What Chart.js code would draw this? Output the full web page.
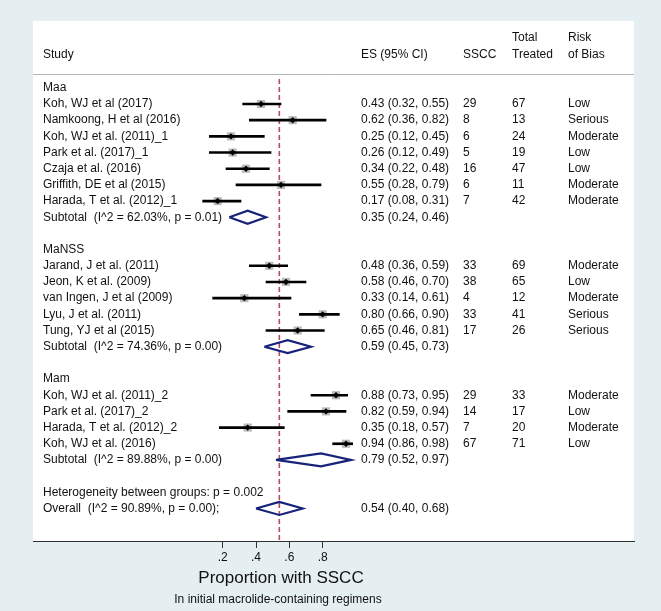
<!DOCTYPE html>
<html>
<head>
<meta charset="utf-8">
<title>Forest plot - proportion with SSCC</title>
<script src="https://cdn.jsdelivr.net/npm/chart.js@4.4.1/dist/chart.umd.min.js"></script>
<style>
  html, body { margin: 0; padding: 0; background: #e5eff1; }
  #wrap { position: relative; width: 661px; height: 611px; }
</style>
</head>
<body>
<div id="wrap"><canvas id="forest"></canvas></div>
<script>
// Table rows, top to bottom (one entry per row of the plot)
const rowLabels = [
  'Maa',
  'Koh, WJ et al (2017)',
  'Namkoong, H et al (2016)',
  'Koh, WJ et al. (2011)_1',
  'Park et al. (2017)_1',
  'Czaja et al. (2016)',
  'Griffith, DE et al (2015)',
  'Harada, T et al. (2012)_1',
  'Subtotal  (I^2 = 62.03%, p = 0.01)',
  '',
  'MaNSS',
  'Jarand, J et al. (2011)',
  'Jeon, K et al. (2009)',
  'van Ingen, J et al (2009)',
  'Lyu, J et al. (2011)',
  'Tung, YJ et al (2015)',
  'Subtotal  (I^2 = 74.36%, p = 0.00)',
  '',
  'Mam',
  'Koh, WJ et al. (2011)_2',
  'Park et al. (2017)_2',
  'Harada, T et al. (2012)_2',
  'Koh, WJ et al. (2016)',
  'Subtotal  (I^2 = 89.88%, p = 0.00)',
  '',
  'Heterogeneity between groups: p = 0.002',
  'Overall  (I^2 = 90.89%, p = 0.00);',
];

// 'study' rows get a box + CI, 'pooled' rows get a diamond
const rowTypes = [
  'group', 'study', 'study', 'study', 'study', 'study', 'study', 'study', 'pooled', 'blank',
  'group', 'study', 'study', 'study', 'study', 'study', 'pooled', 'blank',
  'group', 'study', 'study', 'study', 'study', 'pooled', 'blank',
  'note', 'pooled',
];

const esValues = [
  null, 0.43, 0.62, 0.25, 0.26, 0.34, 0.55, 0.17, 0.35, null,
  null, 0.48, 0.58, 0.33, 0.80, 0.65, 0.59, null,
  null, 0.88, 0.82, 0.35, 0.94, 0.79, null,
  null, 0.54,
];
const ciLow = [
  null, 0.32, 0.36, 0.12, 0.12, 0.22, 0.28, 0.08, 0.24, null,
  null, 0.36, 0.46, 0.14, 0.66, 0.46, 0.45, null,
  null, 0.73, 0.59, 0.18, 0.86, 0.52, null,
  null, 0.40,
];
const ciHigh = [
  null, 0.55, 0.82, 0.45, 0.49, 0.48, 0.79, 0.31, 0.46, null,
  null, 0.59, 0.70, 0.61, 0.90, 0.81, 0.73, null,
  null, 0.95, 0.94, 0.57, 0.98, 0.97, null,
  null, 0.68,
];
const ssccCounts = [
  null, 29, 8, 6, 5, 16, 6, 7, null, null,
  null, 33, 38, 4, 33, 17, null, null,
  null, 29, 14, 7, 67, null, null,
  null, null,
];
const totalTreated = [
  null, 67, 13, 24, 19, 47, 11, 42, null, null,
  null, 69, 65, 12, 41, 26, null, null,
  null, 33, 17, 20, 71, null, null,
  null, null,
];
const riskOfBias = [
  null, 'Low', 'Serious', 'Moderate', 'Low', 'Low', 'Moderate', 'Moderate', null, null,
  null, 'Moderate', 'Low', 'Moderate', 'Serious', 'Serious', null, null,
  null, 'Moderate', 'Low', 'Moderate', 'Low', null, null,
  null, null,
];

const xTicks = [0.2, 0.4, 0.6, 0.8];
const overallES = esValues[rowLabels.length - 1];

const axisTitle = 'Proportion with SSCC';
const noteText = 'In initial macrolide-containing regimens';

// styling
const FONT = "'Liberation Sans', Arial, Helvetica, sans-serif";
const TEXT_COLOR = '#111';
const NAVY = '#17237a';
const REF_COLOR = '#b54a60';

// scale ranges (row units on y, proportion on x)
const X_MIN = -0.938;
const X_MAX = 2.668;
const Y_MIN = -4.13;
const Y_MAX = 28.01;

const studyRows = rowTypes.map((t, i) => (t === 'study' ? i : -1)).filter(i => i >= 0);
const pooledRows = rowTypes.map((t, i) => (t === 'pooled' ? i : -1)).filter(i => i >= 0);

const fmt2 = v => v.toFixed(2);

// white plot region + header rule
const backdropPlugin = {
  id: 'backdrop',
  beforeDraw(chart) {
    const { ctx, chartArea: a, scales: { y } } = chart;
    ctx.save();
    ctx.fillStyle = '#fff';
    ctx.fillRect(a.left, a.top, a.right - a.left, a.bottom - a.top);
    const ruleY = Math.round(y.getPixelForValue(-0.85)) + 0.5;
    ctx.strokeStyle = '#b4b4b4';
    ctx.lineWidth = 1;
    ctx.beginPath();
    ctx.moveTo(a.left, ruleY);
    ctx.lineTo(a.right, ruleY);
    ctx.stroke();
    ctx.restore();
  },
};

// table text columns, axis title and note
const tablePlugin = {
  id: 'table',
  afterDraw(chart) {
    const { ctx, scales: { y } } = chart;
    const col = { study: 43, es: 361, sscc: 463, total: 512, risk: 568 };
    ctx.save();
    ctx.fillStyle = TEXT_COLOR;
    ctx.textBaseline = 'middle';
    ctx.textAlign = 'left';
    ctx.font = '12px ' + FONT;

    // header
    const h1 = y.getPixelForValue(-3.08);
    const h2 = y.getPixelForValue(-2.04);
    ctx.fillText('Study', col.study, h2);
    ctx.fillText('ES (95% CI)', col.es, h2);
    ctx.fillText('SSCC', col.sscc, h2);
    ctx.fillText('Total', col.total, h1);
    ctx.fillText('Treated', col.total, h2);
    ctx.fillText('Risk', col.risk, h1);
    ctx.fillText('of Bias', col.risk, h2);

    rowLabels.forEach((label, i) => {
      const py = y.getPixelForValue(i);
      if (label) ctx.fillText(label, col.study, py);
      if (esValues[i] !== null) {
        ctx.fillText(fmt2(esValues[i]) + ' (' + fmt2(ciLow[i]) + ', ' + fmt2(ciHigh[i]) + ')', col.es, py);
      }
      if (ssccCounts[i] !== null) ctx.fillText(String(ssccCounts[i]), col.sscc, py);
      if (totalTreated[i] !== null) ctx.fillText(String(totalTreated[i]), col.total, py);
      if (riskOfBias[i]) ctx.fillText(riskOfBias[i], col.risk, py);
    });

    // axis title and note below the axis
    ctx.textAlign = 'center';
    ctx.font = '17px ' + FONT;
    ctx.fillText(axisTitle, 281, 578);
    ctx.font = '12px ' + FONT;
    ctx.fillText(noteText, 278, 600);
    ctx.restore();
  },
};

// diamonds for pooled estimates, built from ES and CI
const diamondHalf = 0.4;
const diamondSets = pooledRows.map(i => ({
  type: 'scatter',
  showLine: true,
  data: [
    { x: ciLow[i], y: i },
    { x: esValues[i], y: i - diamondHalf },
    { x: ciHigh[i], y: i },
    { x: esValues[i], y: i + diamondHalf },
    { x: ciLow[i], y: i },
  ],
  borderColor: NAVY,
  borderWidth: 2.2,
  borderJoinStyle: 'miter',
  pointRadius: 0,
  fill: false,
  order: 1,
}));

const datasets = [
  {
    // dashed line at the overall estimate
    type: 'scatter',
    showLine: true,
    data: [{ x: overallES, y: -0.55 }, { x: overallES, y: Y_MAX }],
    borderColor: REF_COLOR,
    borderWidth: 1.6,
    borderDash: [5, 3],
    pointRadius: 0,
    order: 6,
  },
  {
    // weight boxes
    type: 'scatter',
    data: studyRows.map(i => ({ x: esValues[i], y: i })),
    pointStyle: 'rect',
    pointRadius: 5.8,
    backgroundColor: '#bcbcbc',
    borderWidth: 0,
    order: 5,
  },
  {
    // confidence intervals
    type: 'bar',
    indexAxis: 'y',
    data: studyRows.map(i => ({ y: i, x: [ciLow[i], ciHigh[i]] })),
    backgroundColor: '#000',
    borderWidth: 0,
    barThickness: 2,
    grouped: false,
    order: 4,
  },
  {
    // point estimates
    type: 'scatter',
    data: studyRows.map(i => ({ x: esValues[i], y: i })),
    pointStyle: 'rectRot',
    pointRadius: 3.2,
    backgroundColor: '#000',
    borderWidth: 0,
    order: 3,
  },
  ...diamondSets,
];

new Chart(document.getElementById('forest'), {
  type: 'scatter',
  data: { datasets },
  options: {
    responsive: true,
    maintainAspectRatio: false,
    animation: false,
    layout: { padding: { left: 33, right: 27, top: 21, bottom: 0 } },
    plugins: {
      legend: { display: false },
      tooltip: { enabled: false },
    },
    scales: {
      x: {
        type: 'linear',
        min: X_MIN,
        max: X_MAX,
        offset: false,
        afterBuildTicks: scale => {
          scale.ticks = xTicks.map(v => ({ value: v }));
        },
        afterFit: scale => {
          scale.height = 70;
        },
        grid: {
          offset: false,
          drawOnChartArea: false,
          drawTicks: true,
          tickLength: 7,
          color: '#333',
          lineWidth: 1,
        },
        border: { display: true, color: '#333', width: 1 },
        ticks: {
          color: TEXT_COLOR,
          padding: 2,
          maxRotation: 0,
          font: { family: FONT, size: 12 },
          callback: v => String(v).replace(/^0\./, '.'),
        },
      },
      y: {
        type: 'linear',
        min: Y_MIN,
        max: Y_MAX,
        reverse: true,
        offset: false,
        display: false,
        grid: { offset: false },
      },
    },
  },
  plugins: [backdropPlugin, tablePlugin],
});
</script>
</body>
</html>
